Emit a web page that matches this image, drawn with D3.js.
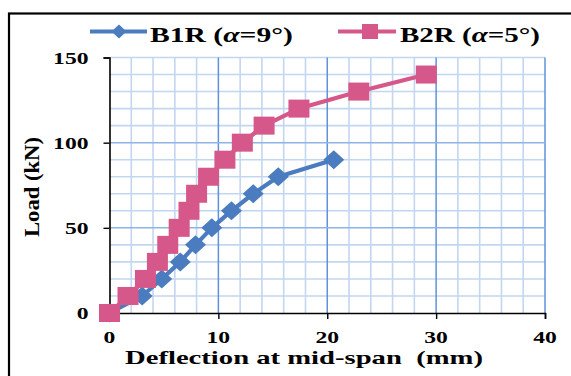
<!DOCTYPE html>
<html>
<head>
<meta charset="utf-8">
<script src="https://cdnjs.cloudflare.com/ajax/libs/d3/7.8.5/d3.min.js"></script>
<style>
  html, body { margin: 0; padding: 0; background: #fff; }
  svg { display: block; }
  text { font-family: "Liberation Serif", serif; font-weight: 700; fill: #000; }
</style>
</head>
<body>
<script>
// Load–deflection readings for the two beams
const deflB1R = [0, 3.0, 4.8, 6.5, 7.9, 9.4, 11.2, 13.2, 15.5, 20.6];
const loadB1R = [0, 10, 20, 30, 40, 50, 60, 70, 80, 90];
const deflB2R = [0, 1.7, 3.3, 4.4, 5.35, 6.4, 7.3, 8.0, 9.1, 10.6, 12.2, 14.2, 17.4, 22.9, 29.1];
const loadB2R = [0, 10, 20, 30, 40, 50, 60, 70, 80, 90, 100, 110, 120, 130, 140];

const xTicks = [0, 10, 20, 30, 40];
const yTicks = [0, 50, 100, 150];
const seriesNames = ["B1R", "B2R"];
const seriesAngles = ["9°", "5°"];

const W = 571, H = 376;
const BLUE = "#4a7cbf", PINK = "#d6588a";
const DIGIT_W = 11.8; // rendered width of one tick-label digit

const svg = d3.select("body").append("svg").attr("width", W).attr("height", H);

const x = d3.scaleLinear().domain([0, 40]).range([109.5, 545]);
const y = d3.scaleLinear().domain([0, 150]).range([313, 57.5]);

// outer frame
svg.append("rect").attr("x", 9).attr("y", 13.5).attr("width", 620).attr("height", 420)
  .attr("fill", "none").attr("stroke", "#000").attr("stroke-width", 2.2);

// grid
const grid = svg.append("g");
const minorX = d3.range(2, 41, 2).filter(v => v % 10 !== 0);
const minorY = d3.range(10, 151, 10).filter(v => v % 50 !== 0 || v === 150);
grid.selectAll(".mx").data(minorX).join("line")
  .attr("x1", d => x(d)).attr("x2", d => x(d)).attr("y1", y(0)).attr("y2", y(150))
  .attr("stroke", "#c3d6f0").attr("stroke-width", 1.6);
grid.selectAll(".my").data(minorY).join("line")
  .attr("x1", x(0)).attr("x2", x(40)).attr("y1", d => y(d)).attr("y2", d => y(d))
  .attr("stroke", "#c3d6f0").attr("stroke-width", 1.6);
grid.selectAll(".Mx").data(xTicks.filter(v => v > 0)).join("line")
  .attr("x1", d => x(d)).attr("x2", d => x(d)).attr("y1", y(0)).attr("y2", y(150))
  .attr("stroke", "#5e93dc").attr("stroke-width", 1.5);
grid.selectAll(".My").data([50, 100]).join("line")
  .attr("x1", x(0)).attr("x2", x(40)).attr("y1", d => y(d)).attr("y2", d => y(d))
  .attr("stroke", "#8fb3e6").attr("stroke-width", 1.5);

// axes
const xAxis = svg.append("g").attr("transform", `translate(0,${y(0)})`)
  .call(d3.axisBottom(x).tickValues(xTicks).tickSize(6).tickFormat(""));
const yAxis = svg.append("g").attr("transform", `translate(${x(0)},0)`)
  .call(d3.axisLeft(y).tickValues(yTicks).tickSize(6).tickFormat(""));
[xAxis, yAxis].forEach(a => {
  a.select(".domain").attr("stroke", "#000").attr("stroke-width", 1.6);
  a.selectAll(".tick line").attr("stroke", "#000").attr("stroke-width", 1.4);
});

// tick labels
svg.selectAll(".xl").data(xTicks).join("text")
  .attr("x", d => x(d)).attr("y", 342.5)
  .attr("text-anchor", "middle").attr("font-size", 16.5)
  .attr("textLength", d => String(d).length * DIGIT_W).attr("lengthAdjust", "spacingAndGlyphs")
  .text(d => d);
svg.selectAll(".yl").data(yTicks).join("text")
  .attr("x", 88.5).attr("y", d => y(d) + 6)
  .attr("text-anchor", "end").attr("font-size", 17)
  .attr("textLength", d => String(d).length * DIGIT_W).attr("lengthAdjust", "spacingAndGlyphs")
  .text(d => d);

// axis titles
svg.append("text").attr("x", 125).attr("y", 364).attr("font-size", 19)
  .attr("textLength", 358).attr("lengthAdjust", "spacingAndGlyphs")
  .style("white-space", "pre").text("Deflection at mid-span  (mm)");
svg.append("text").attr("transform", "translate(38.5,237) rotate(-90)")
  .attr("font-size", 20.5).attr("textLength", 100).attr("lengthAdjust", "spacingAndGlyphs")
  .text("Load (kN)");

// series
const line = d3.line().x(d => x(d[0])).y(d => y(d[1]));
const diamond = (w, h) => `M0,${-h / 2}L${w / 2},0L0,${h / 2}L${-w / 2},0Z`;

const b1 = d3.zip(deflB1R, loadB1R);
const b2 = d3.zip(deflB2R, loadB2R);

svg.append("path").datum(b1).attr("d", line).attr("fill", "none")
  .attr("stroke", BLUE).attr("stroke-width", 4.2).attr("stroke-linejoin", "round");
svg.selectAll(".d1").data(b1).join("path")
  .attr("transform", d => `translate(${x(d[0])},${y(d[1])})`)
  .attr("d", diamond(21, 19)).attr("fill", BLUE);

svg.append("path").datum(b2).attr("d", line).attr("fill", "none")
  .attr("stroke", PINK).attr("stroke-width", 4.2).attr("stroke-linejoin", "round");
svg.selectAll(".s2").data(b2).join("rect")
  .attr("x", d => x(d[0]) - 10.5).attr("y", d => y(d[1]) - 9)
  .attr("width", 21).attr("height", 18).attr("fill", PINK);

// legend
const leg = svg.append("g");
leg.append("line").attr("x1", 90).attr("x2", 147).attr("y1", 31.5).attr("y2", 31.5)
  .attr("stroke", BLUE).attr("stroke-width", 4);
leg.append("path").attr("transform", "translate(119,31.5)").attr("d", diamond(15, 14)).attr("fill", BLUE);
leg.append("line").attr("x1", 338).attr("x2", 396).attr("y1", 31.5).attr("y2", 31.5)
  .attr("stroke", PINK).attr("stroke-width", 4);
leg.append("rect").attr("x", 362).attr("y", 24).attr("width", 16).attr("height", 15).attr("fill", PINK);

[[150, 143], [400, 140]].forEach(([lx, lw], i) => {
  const t = leg.append("text").attr("x", lx).attr("y", 41.5).attr("font-size", 20)
    .attr("textLength", lw).attr("lengthAdjust", "spacingAndGlyphs");
  t.append("tspan").text(seriesNames[i] + " (");
  t.append("tspan").attr("font-style", "italic").text("α");
  t.append("tspan").text("=" + seriesAngles[i] + ")");
});
</script>
</body>
</html>
